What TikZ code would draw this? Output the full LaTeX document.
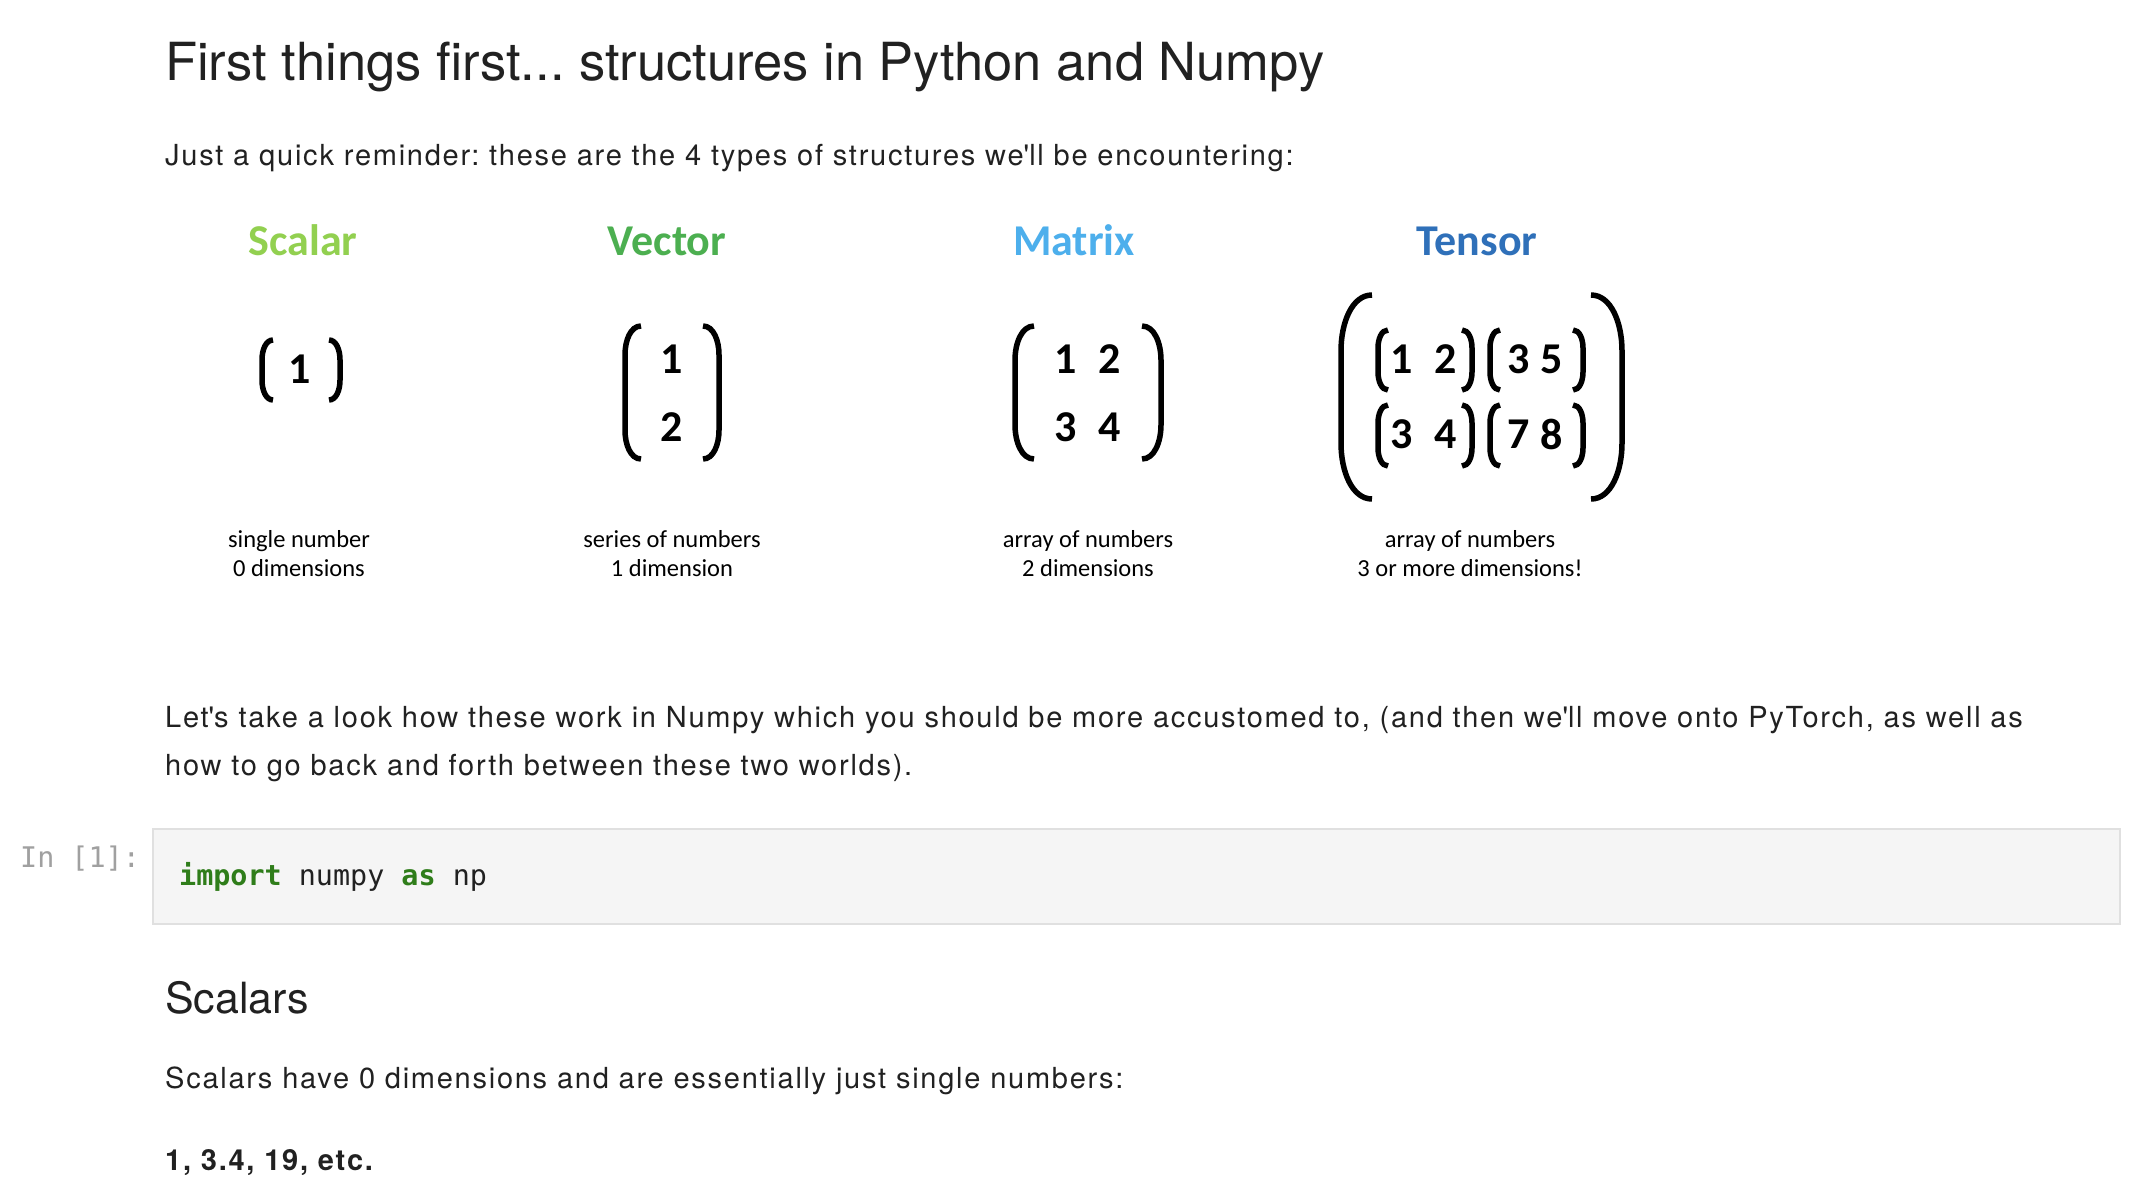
\documentclass[tikz,border=0pt]{standalone}
\usepackage{fontspec}
\setmainfont{TeX Gyre Heros}
\newfontfamily\bodyfont{TeX Gyre Heros}[LetterSpace=6]
\newfontfamily\calib{Carlito}
\newfontfamily\codefont{DejaVu Sans Mono}
\frenchspacing
\definecolor{ink}{HTML}{212121}
\definecolor{scalarcol}{HTML}{92D050}
\definecolor{vectorcol}{HTML}{4CAF50}
\definecolor{matrixcol}{HTML}{4DAFEC}
\definecolor{tensorcol}{HTML}{2F70B9}
\definecolor{kwgreen}{HTML}{2F7D1A}
\definecolor{promptgray}{HTML}{A0A0A0}
\definecolor{cellbg}{HTML}{F5F5F5}
\definecolor{cellline}{HTML}{E0E0E0}
% left and right bracket: x of the bar, top, bottom, hook width
\newcommand{\lbrk}[4]{\draw[brk] ({#1+#4},#2) .. controls ({#1+0.35*#4},#2) and (#1,{#2+0.9*#4}) .. (#1,{#2+1.8*#4}) -- (#1,{#3-1.8*#4}) .. controls (#1,{#3-0.9*#4}) and ({#1+0.35*#4},#3) .. ({#1+#4},#3);}
\newcommand{\rbrk}[4]{\draw[brk] ({#1-#4},#2) .. controls ({#1-0.35*#4},#2) and (#1,{#2+0.9*#4}) .. (#1,{#2+1.8*#4}) -- (#1,{#3-1.8*#4}) .. controls (#1,{#3-0.9*#4}) and ({#1-0.35*#4},#3) .. ({#1-#4},#3);}
\begin{document}
\begin{tikzpicture}[x=1pt,y=-1pt,
    txt/.style={inner sep=0pt,text=ink},
    body/.style={txt,anchor=base west,font=\bodyfont\fontsize{29}{35}\selectfont},
    lbl/.style={inner sep=0pt,anchor=base,font=\calib\bfseries\fontsize{44}{50}\selectfont},
    num/.style={inner sep=0pt,text=black,font=\calib\bfseries\fontsize{44}{50}\selectfont},
    capt/.style={inner sep=0pt,text=black,anchor=base,font=\calib\fontsize{24.5}{30}\selectfont},
    brk/.style={line width=5.5pt,black},
    code/.style={inner sep=0pt,anchor=base west,font=\codefont\fontsize{28.4}{34}\selectfont}]
  \fill[white] (0,0) rectangle (2144,1192);
  \useasboundingbox (0,0) rectangle (2144,1192);
  % header text
  \node[txt,anchor=base west,font=\fontsize{52.5}{60}\selectfont] (title) at (165,80) {First things first... structures in Python and Numpy};
  \node[body] (intro) at (165,165) {Just a quick reminder: these are the 4 types of structures we\textquotesingle ll be encountering:};
  % the four structures
  \node[lbl,text=scalarcol] (scalar) at (303,255) {Scalar};
  \node[lbl,text=vectorcol] (vector) at (667,255) {Vector};
  \node[lbl,text=matrixcol] (matrix) at (1074,255) {Matrix};
  \node[lbl,text=tensorcol] (tensor) at (1477,255) {Tensor};
  \lbrk{262}{340}{400}{11} \rbrk{340}{340}{400}{11}
  \node[num] (s1) at (300,369) {1};
  \lbrk{625}{326}{459}{16} \rbrk{719}{326}{459}{16}
  \node[num] (v1) at (672,359) {1};
  \node[num] (v2) at (672,427) {2};
  \lbrk{1015}{326}{459}{19} \rbrk{1161}{326}{459}{19}
  \node[num] (m11) at (1066,359) {1};
  \node[num] (m12) at (1110,359) {2};
  \node[num] (m21) at (1066,427) {3};
  \node[num] (m22) at (1110,427) {4};
  \lbrk{1341}{295}{499}{31} \rbrk{1622}{295}{499}{31}
  \lbrk{1378}{330}{390}{10} \rbrk{1472}{330}{390}{10}
  \lbrk{1490}{330}{390}{10} \rbrk{1583}{330}{390}{10}
  \lbrk{1378}{405}{466}{10} \rbrk{1472}{405}{466}{10}
  \lbrk{1490}{405}{466}{10} \rbrk{1583}{405}{466}{10}
  \node[num] (t111) at (1402,359) {1};
  \node[num] (t112) at (1446,359) {2};
  \node[num] (t121) at (1519,359) {3};
  \node[num] (t122) at (1552,359) {5};
  \node[num] (t211) at (1402,434) {3};
  \node[num] (t212) at (1446,434) {4};
  \node[num] (t221) at (1519,434) {7};
  \node[num] (t222) at (1552,434) {8};
  \node[capt] (scap1) at (299,547) {single number};
  \node[capt] (scap2) at (299,576) {0 dimensions};
  \node[capt] (vcap1) at (672,547) {series of numbers};
  \node[capt] (vcap2) at (672,576) {1 dimension};
  \node[capt] (mcap1) at (1088,547) {array of numbers};
  \node[capt] (mcap2) at (1088,576) {2 dimensions};
  \node[capt] (tcap1) at (1470,547) {array of numbers};
  \node[capt] (tcap2) at (1470,576) {3 or more dimensions!};
  % markdown paragraph
  \node[body] (para1) at (165,727) {Let\textquotesingle s take a look how these work in Numpy which you should be more accustomed to, (and then we\textquotesingle ll move onto PyTorch, as well as};
  \node[body] (para2) at (165,775) {how to go back and forth between these two worlds).};
  % code cell
  \draw[cellline,fill=cellbg,line width=2pt] (153,829) rectangle (2120,924);
  \node[code,text=promptgray] (prompt) at (20,867) {In [1]:};
  \node[code,text=ink] (import) at (179,885) {\textcolor{kwgreen}{\bfseries import} numpy \textcolor{kwgreen}{\bfseries as} np};
  % scalars section
  \node[txt,anchor=base west,font=\fontsize{43}{50}\selectfont] (scalars) at (165,1013) {Scalars};
  \node[body] (scdesc) at (165,1088) {Scalars have 0 dimensions and are essentially just single numbers:};
  \node[body,font=\bodyfont\bfseries\fontsize{29}{35}\selectfont] (scex) at (165,1170) {1, 3.4, 19, etc.};
\end{tikzpicture}
\end{document}
